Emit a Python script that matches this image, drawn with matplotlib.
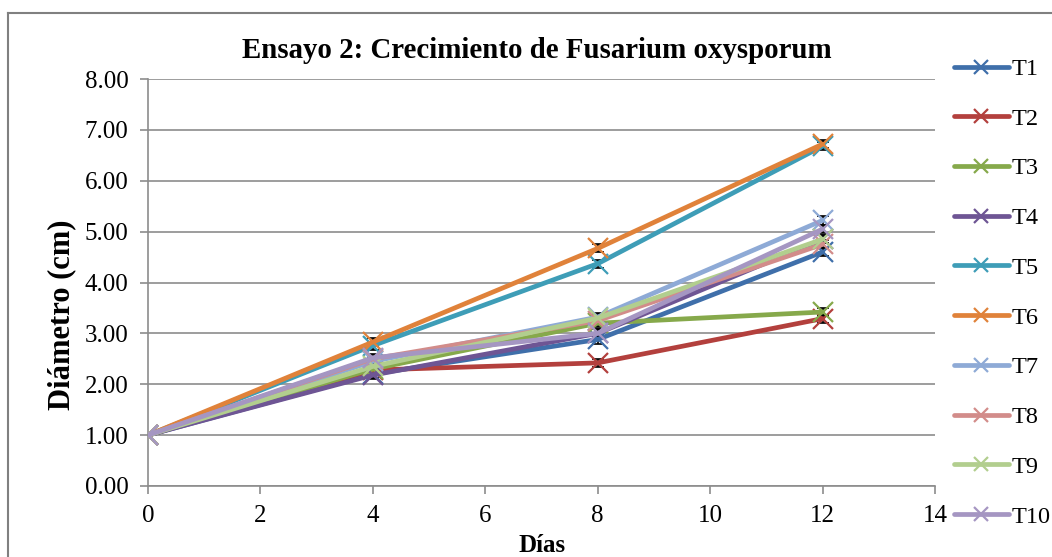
import matplotlib
matplotlib.use("Agg")
import matplotlib.pyplot as plt
from matplotlib.lines import Line2D

days = [0, 4, 8, 12]
series_names = ["T1", "T2", "T3", "T4", "T5", "T6", "T7", "T8", "T9", "T10"]
T1 = [1.00, 2.20, 2.88, 4.60]
T2 = [1.00, 2.28, 2.42, 3.29]
T3 = [1.00, 2.30, 3.20, 3.42]
T4 = [1.00, 2.18, 3.00, 4.85]
T5 = [1.00, 2.76, 4.37, 6.68]
T6 = [1.00, 2.83, 4.67, 6.72]
T7 = [1.00, 2.45, 3.32, 5.22]
T8 = [1.00, 2.50, 3.25, 4.75]
T9 = [1.00, 2.35, 3.30, 4.85]
T10 = [1.00, 2.52, 3.00, 5.05]
errors = [0.0, 0.08, 0.08, 0.08]
values = [T1, T2, T3, T4, T5, T6, T7, T8, T9, T10]
colors = ["#3F6FAA", "#B3403D", "#86A94B", "#6E5594", "#3E9DB7",
          "#E0823A", "#8EAAD6", "#D28C8A", "#B2CE8E", "#A596C2"]

plt.rcParams['font.family'] = ['Liberation Serif', 'DejaVu Serif']

W, H = 1052, 557
fig = plt.figure(figsize=(W / 100, H / 100), dpi=100)
ax = fig.add_axes([148/W, 1-486/H, (935-148)/W, (486-79)/H])

for name, vals, c in zip(series_names, values, colors):
    ax.errorbar(days, vals, yerr=errors, fmt='none', ecolor='black',
                elinewidth=1.2, capsize=4, capthick=1.2, zorder=2)
    ax.plot(days, vals, color=c, lw=3.4, marker='x', markersize=14,
            markeredgewidth=1.6, label=name, zorder=3, solid_capstyle='round')

ax.set_xlim(0, 14)
ax.set_ylim(0, 8)
ax.set_xticks(range(0, 15, 2))
ax.set_yticks([i for i in range(0, 9)])
ax.set_yticklabels([f"{i:.2f}" for i in range(0, 9)])
ax.tick_params(axis='both', labelsize=18, direction='out', length=6,
               color='#8c8c8c', width=1.2)
ax.tick_params(axis='x', pad=8)
ax.tick_params(axis='y', pad=8)
ax.grid(axis='y', color='#8c8c8c', lw=1.2)
ax.set_axisbelow(True)
for s in ['top', 'right']:
    ax.spines[s].set_visible(False)
for s in ['left', 'bottom']:
    ax.spines[s].set_color('#8c8c8c')
    ax.spines[s].set_linewidth(1.2)

fig.text(542/W, 1-545/H, "Días", ha='center', va='center',
         fontsize=18, fontweight='bold')
fig.text(62/W, 1-315/H, "Diámetro (cm)", ha='center', va='center',
         rotation=90, fontsize=22, fontweight='bold')
fig.text(537/W, 1-50/H, "Ensayo 2: Crecimiento de Fusarium oxysporum",
         ha='center', va='center', fontsize=20.8, fontweight='bold')

handles, labels = ax.get_legend_handles_labels()
leg = fig.legend(handles, labels, loc='upper left',
                 bbox_to_anchor=(954/W, 1-58/H),
                 frameon=False, fontsize=17.5, handlelength=2.25, handletextpad=0.12,
                 labelspacing=1.14, borderaxespad=0, borderpad=0, markerscale=0.7)

fig.add_artist(Line2D([7.5/W, 7.5/W], [0, 1-12.5/H], transform=fig.transFigure,
                      color='#808080', lw=1.5))
fig.add_artist(Line2D([7.5/W, 1], [1-12.5/H, 1-12.5/H], transform=fig.transFigure,
                      color='#808080', lw=1.5))

fig.savefig("out.png", dpi=100)
